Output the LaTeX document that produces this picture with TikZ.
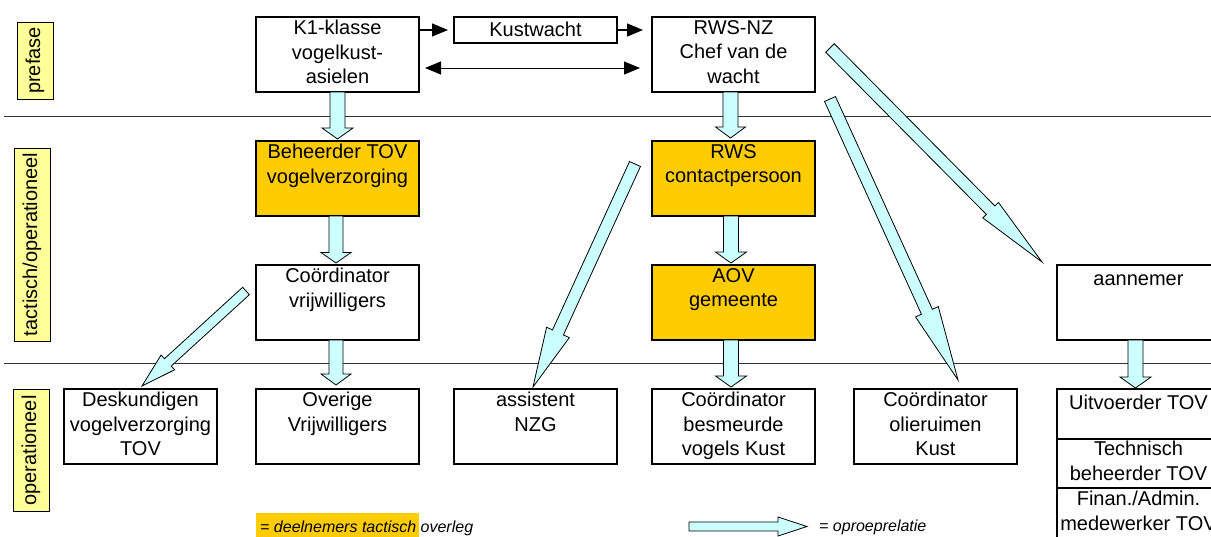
\documentclass[tikz,border=0pt]{standalone}
\usepackage{fontspec}
\setmainfont{Liberation Sans}
\usetikzlibrary{calc,arrows.meta}
\definecolor{orng}{HTML}{FFCC00}
\definecolor{lcyan}{HTML}{CCFFFF}
\definecolor{lyel}{HTML}{FFFF99}
% #1 from, #2 to, #3 shaft half width, #4 head half width, #5 head length
\newcommand\blockarrow[5]{%
  \coordinate (ba-h) at ($(#2)!#5!(#1)$);
  \draw[fatarrow] ($(#1)!#3!90:(#2)$) -- ($(ba-h)!#3!90:(#2)$) -- ($(ba-h)!#4!90:(#2)$) -- (#2)
    -- ($(ba-h)!#4!-90:(#2)$) -- ($(ba-h)!#3!-90:(#2)$) -- ($(#1)!#3!-90:(#2)$) -- cycle;}
\begin{document}
\begin{tikzpicture}[x=1pt,y=-1pt,
  box/.style={draw, line width=2pt, minimum width=163pt, minimum height=75pt, inner sep=0pt, outer sep=0pt},
  txt/.style={anchor=north, align=center, inner xsep=0pt, inner ysep=3pt,
    font=\fontsize{20}{24.5}\selectfont, execute at begin node=\strut},
  lab/.style={draw, fill=lyel, line width=0.8pt, rotate=90, inner sep=0pt, minimum height=36pt,
    font=\fontsize{20}{24}\selectfont},
  hline/.style={line width=1pt, black!80},
  fatarrow/.style={draw, fill=lcyan, line width=0.8pt, line join=miter},
  blkarrow/.style={line width=1.2pt, -{Triangle[length=16pt,width=13pt]}},
  dblarrow/.style={line width=1pt, {Triangle[length=16pt,width=13pt]}-{Triangle[length=16pt,width=13pt]}},
  legtxt/.style={inner sep=0pt, font=\fontsize{16}{19}\selectfont\itshape}]
\useasboundingbox (0,0) rectangle (1211,536);
\clip (0,0) rectangle (1211,536);
\fill[white] (0,0) rectangle (1211,536);

% separators
\draw[hline] (4,116) -- (1211,116);
\draw[hline] (4,363) -- (1211,363);

% phase labels
\node[lab, minimum width=77pt] (lpre) at (35,60.5) {prefase};
\node[lab, minimum width=193pt] (ltac) at (32,244.5) {tactisch/operationeel};
\node[lab, minimum width=122pt] (lope) at (31,450.5) {operationeel};

% boxes
\node[box] (k1) at (337.5,54.5) {};
\node[box, minimum height=26pt] (kust) at (535.5,30) {};
\node[box] (rwsnz) at (733.5,54.5) {};
\node[box, fill=orng] (beh) at (337.5,178.5) {};
\node[box, fill=orng] (rwsc) at (733.5,178.5) {};
\node[box] (cvrij) at (337.5,302.5) {};
\node[box, fill=orng] (aov) at (733.5,302.5) {};
\node[box] (aan) at (1138.5,302.5) {};
\node[box, minimum width=153pt] (desk) at (140.5,426.5) {};
\node[box] (over) at (337.5,426.5) {};
\node[box] (assi) at (535.5,426.5) {};
\node[box] (cbes) at (733.5,426.5) {};
\node[box] (colie) at (935.5,426.5) {};
\node[box, minimum height=50pt] (uit) at (1138.5,414) {};
\node[box, minimum height=49pt] (tech) at (1138.5,463.5) {};
\node[box, minimum height=52pt] (fin) at (1138.5,514) {};

% box texts
\node[txt] (k1t) at (k1.north) {K1-klasse\\vogelkust-\\asielen};
\node[txt, inner ysep=2pt] (kustt) at (kust.north) {Kustwacht};
\node[txt] (rwsnzt) at (rwsnz.north) {RWS-NZ\\Chef van de\\wacht};
\node[txt] (beht) at (beh.north) {Beheerder TOV\\vogelverzorging};
\node[txt] (rwsct) at (rwsc.north) {RWS\\contactpersoon};
\node[txt] (cvrijt) at (cvrij.north) {Coördinator\\vrijwilligers};
\node[txt] (aovt) at (aov.north) {AOV\\gemeente};
\node[txt] (aant) at (aan.north) {aannemer};
\node[txt] (deskt) at (desk.north) {Deskundigen\\vogelverzorging\\TOV};
\node[txt] (overt) at (over.north) {Overige\\Vrijwilligers};
\node[txt] (assit) at (assi.north) {assistent\\NZG};
\node[txt] (cbest) at (cbes.north) {Coördinator\\besmeurde\\vogels Kust};
\node[txt] (coliet) at (colie.north) {Coördinator\\olieruimen\\Kust};
\node[txt] (uitt) at (uit.north) {Uitvoerder TOV};
\node[txt, inner ysep=2pt] (techt) at (tech.north) {Technisch\\beheerder TOV};
\node[txt] (fint) at (fin.north) {Finan./Admin.\\medewerker TOV};

% black arrows
\draw[blkarrow] (k1.east |- kust.west) -- ($(kust.west)+(-6,0)$);
\draw[blkarrow] (kust.east) -- ($(rwsnz.west |- kust.east)+(-9,0)$);
\draw[dblarrow] ($(k1.east)+(6,13.5)$) -- ($(rwsnz.west)+(-12,13.5)$);

% vertical block arrows
\coordinate (v1s) at (k1.south); \coordinate (v1e) at ($(beh.north)+(0,-2)$);
\blockarrow{v1s}{v1e}{7.5pt}{15.5pt}{11pt}
\coordinate (v2s) at ($(beh.south)+(-1.5,0)$); \coordinate (v2e) at ($(cvrij.north)+(-1.5,-2)$);
\blockarrow{v2s}{v2e}{7pt}{15pt}{10.5pt}
\coordinate (v3s) at ($(cvrij.south)+(-1.5,0)$); \coordinate (v3e) at ($(over.north)+(-1.5,-4)$);
\blockarrow{v3s}{v3e}{7pt}{15pt}{11pt}
\coordinate (v4s) at ($(rwsnz.south)+(-3,0)$); \coordinate (v4e) at ($(rwsc.north)+(-3,-3)$);
\blockarrow{v4s}{v4e}{7.5pt}{15pt}{11pt}
\coordinate (v5s) at ($(rwsc.south)+(-2.5,0)$); \coordinate (v5e) at ($(aov.north)+(-2.5,-2)$);
\blockarrow{v5s}{v5e}{7.5pt}{15.5pt}{11pt}
\coordinate (v6s) at ($(aov.south)+(-2.5,0)$); \coordinate (v6e) at ($(cbes.north)+(-2.5,-2)$);
\blockarrow{v6s}{v6e}{7.5pt}{15.5pt}{11pt}
\coordinate (v7s) at ($(aan.south)+(-3,0)$); \coordinate (v7e) at ($(uit.north)+(-3,-1)$);
\blockarrow{v7s}{v7e}{7.5pt}{15.5pt}{11pt}

% diagonal block arrows
\coordinate (d1s) at ($(cvrij.west)+(-10,-11.5)$); \coordinate (d1e) at ($(desk.north)+(1.5,-3)$);
\blockarrow{d1s}{d1e}{5pt}{10pt}{35pt}
\coordinate (d2s) at ($(rwsc.west)+(-17,-14.5)$); \coordinate (d2e) at ($(assi.north)+(-2.5,-2)$);
\blockarrow{d2s}{d2e}{6pt}{12.5pt}{60pt}
\coordinate (d3s) at ($(rwsnz.south east)+(15,7)$); \coordinate (d3e) at ($(colie.north)+(22.5,-9)$);
\blockarrow{d3s}{d3e}{6pt}{12.5pt}{75pt}
\coordinate (d4s) at ($(rwsnz.east)+(15,-6.5)$); \coordinate (d4e) at ($(aan.north west)+(-15,-3)$);
\blockarrow{d4s}{d4e}{6pt}{11pt}{73pt}

% legend
\node[fill=orng, minimum width=163pt, minimum height=30pt, inner sep=0pt, anchor=north west] (legbox) at (256,513) {};
\node[legtxt, anchor=base west] (legt1) at (260,532) {= deelnemers tactisch overleg};
\coordinate (la) at (689,526.5); \coordinate (lb) at (807,526.5);
\blockarrow{la}{lb}{4.5pt}{9.5pt}{29pt}
\node[legtxt, anchor=base west] (legt2) at (819,531) {= oproeprelatie};
\end{tikzpicture}
\end{document}
